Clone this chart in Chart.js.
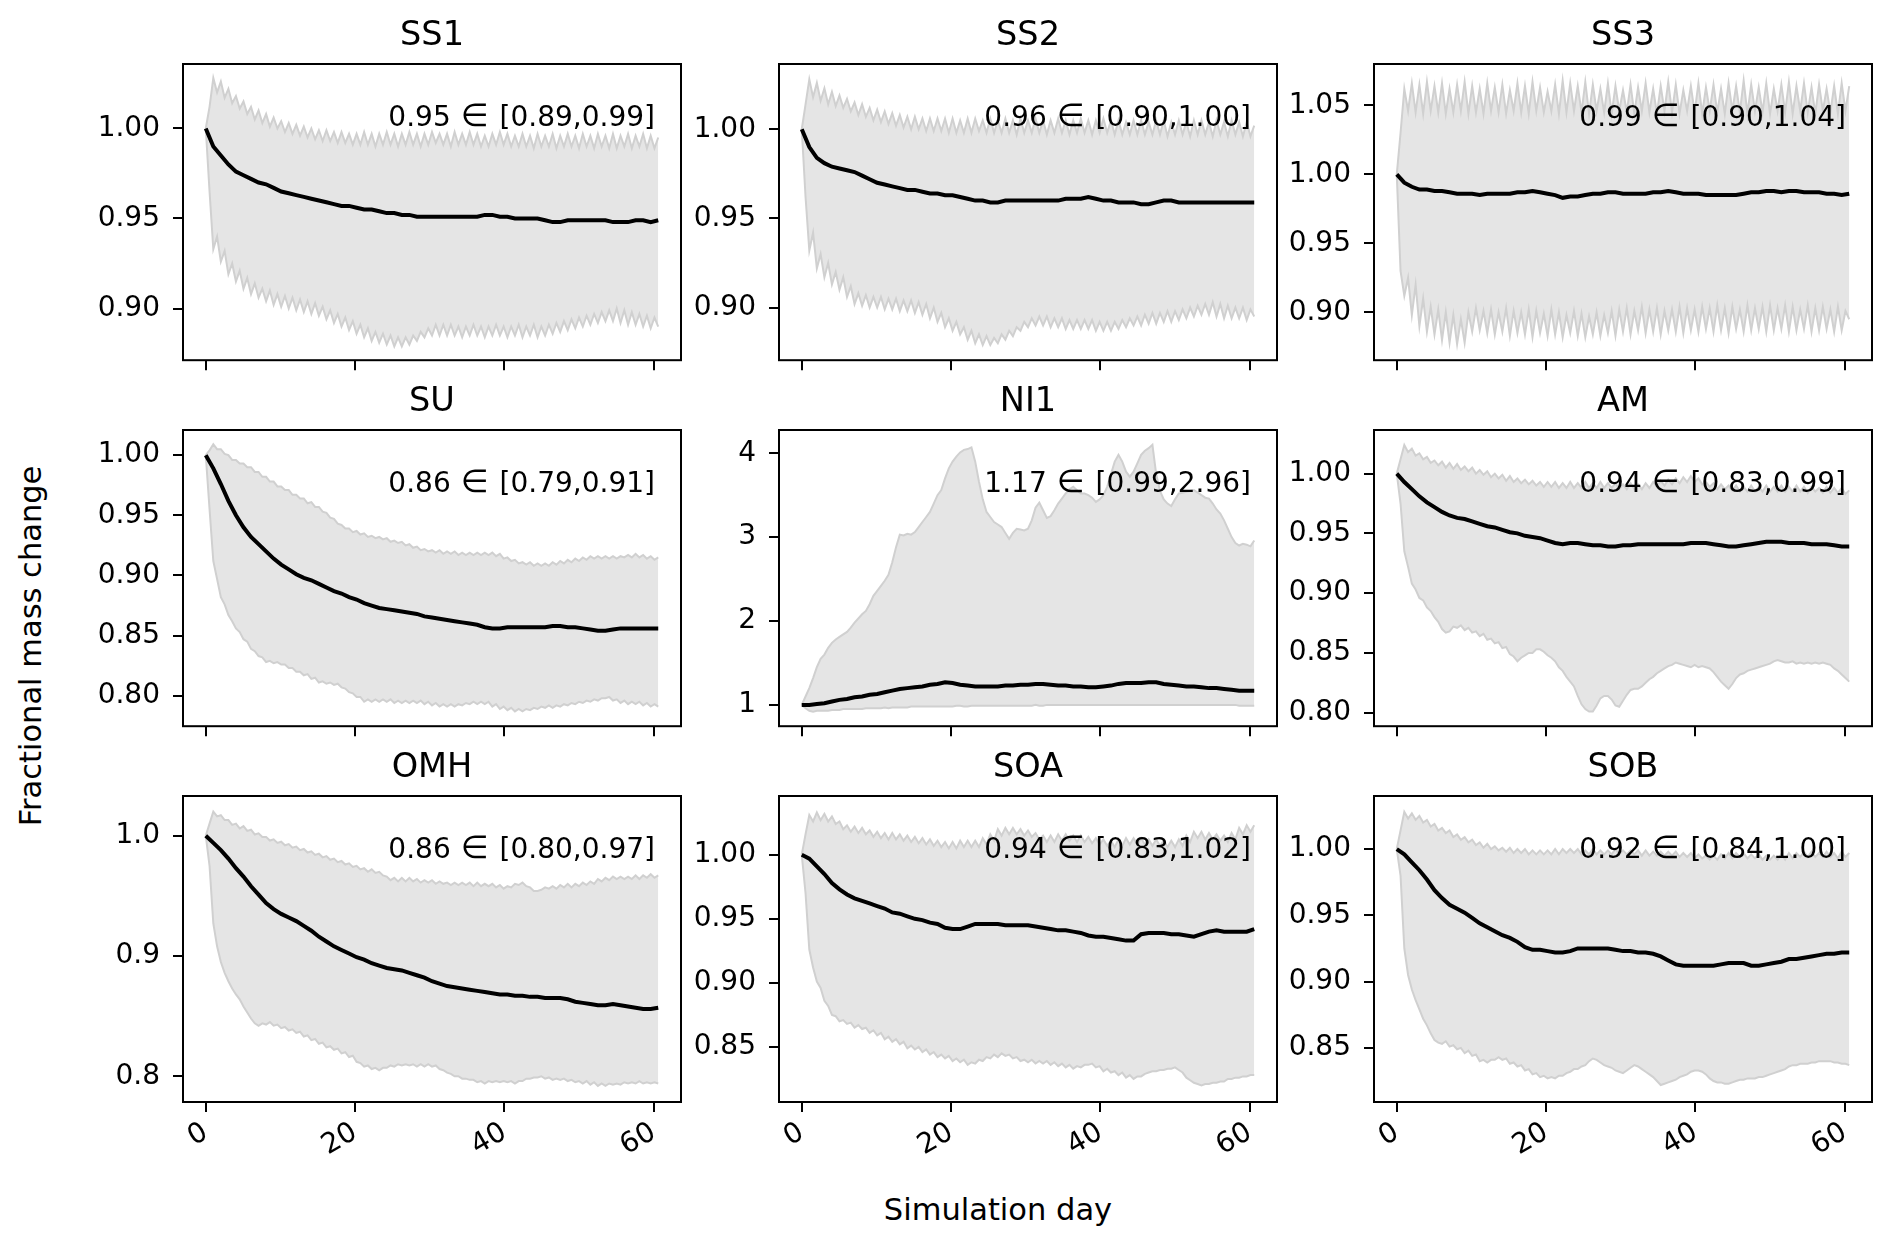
<!DOCTYPE html>
<html>
<head>
<meta charset="utf-8">
<title>Fractional mass change</title>
<script src="https://cdn.jsdelivr.net/npm/chart.js@4.4.1/dist/chart.umd.min.js"></script>
<style>
  html, body { margin: 0; padding: 0; background: #fff; }
  body { position: relative; width: 1892px; height: 1249px; overflow: hidden; font-family: "DejaVu Sans", sans-serif; }
  canvas { position: absolute; }
  .fig-label { position: absolute; font-size: 30.5px; line-height: 30.5px; color: #000; white-space: nowrap; }
  #xlabel { left: 998px; top: 1195px; transform: translateX(-50%); }
  #ylabel { left: 31px; top: 646px; transform: translate(-50%, -50%) rotate(-90deg); }
</style>
</head>
<body>
<div id="xlabel" class="fig-label">Simulation day</div>
<div id="ylabel" class="fig-label">Fractional mass change</div>
<script>
// sampling interval (days) of the ensemble mean and of the min/max band
const MEAN_STEP = 1.01;
const BAND_STEP = 0.505;

const xTickLabels = ['0', '20', '40', '60'];
const panelTitles = ['SS1', 'SS2', 'SS3', 'SU', 'NI1', 'AM', 'OMH', 'SOA', 'SOB'];
const panelNotes = [
  '0.95 ∈ [0.89,0.99]', '0.96 ∈ [0.90,1.00]', '0.99 ∈ [0.90,1.04]',
  '0.86 ∈ [0.79,0.91]', '1.17 ∈ [0.99,2.96]', '0.94 ∈ [0.83,0.99]',
  '0.86 ∈ [0.80,0.97]', '0.94 ∈ [0.83,1.02]', '0.92 ∈ [0.84,1.00]'
];

const ss1Ticks = ['0.90', '0.95', '1.00'];
const ss2Ticks = ['0.90', '0.95', '1.00'];
const ss3Ticks = ['0.90', '0.95', '1.00', '1.05'];
const suTicks = ['0.80', '0.85', '0.90', '0.95', '1.00'];
const ni1Ticks = ['1', '2', '3', '4'];
const amTicks = ['0.80', '0.85', '0.90', '0.95', '1.00'];
const omhTicks = ['0.8', '0.9', '1.0'];
const soaTicks = ['0.85', '0.90', '0.95', '1.00'];
const sobTicks = ['0.85', '0.90', '0.95', '1.00'];

// ---- SS1 ----
const ss1Mean = [
  1.000,0.990,0.985,0.980,0.976,0.974,0.972,0.970,0.969,0.967,
  0.965,0.964,0.963,0.962,0.961,0.960,0.959,0.958,0.957,0.957,
  0.956,0.955,0.955,0.954,0.953,0.953,0.952,0.952,0.951,0.951,
  0.951,0.951,0.951,0.951,0.951,0.951,0.951,0.952,0.952,0.951,
  0.951,0.950,0.950,0.950,0.950,0.949,0.948,0.948,0.949,0.949,
  0.949,0.949,0.949,0.949,0.948,0.948,0.948,0.949,0.949,0.948,
  0.949
];
const ss1Upper = [
  1.000,1.012,1.028,1.020,1.026,1.017,1.022,1.014,1.018,1.011,1.015,1.008,1.012,1.005,1.010,1.003,1.008,1.001,1.006,1.000,
  1.004,0.998,1.003,0.997,1.002,0.996,1.001,0.995,1.000,0.994,0.999,0.993,0.999,0.993,0.998,0.992,0.998,0.992,0.997,0.991,
  0.997,0.991,0.998,0.991,0.997,0.990,0.997,0.991,0.998,0.991,0.997,0.990,0.997,0.991,0.998,0.991,0.997,0.990,0.997,0.991,
  0.998,0.992,0.997,0.991,0.997,0.990,0.998,0.991,0.997,0.991,0.998,0.991,0.997,0.990,0.996,0.990,0.997,0.991,0.998,0.991,
  0.997,0.990,0.996,0.990,0.997,0.990,0.996,0.989,0.997,0.990,0.996,0.990,0.997,0.989,0.996,0.990,0.997,0.990,0.996,0.989,
  0.997,0.990,0.996,0.989,0.997,0.990,0.996,0.989,0.997,0.989,0.996,0.990,0.997,0.989,0.996,0.990,0.997,0.989,0.996,0.989,
  0.995
];
const ss1Lower = [
  1.000,0.965,0.933,0.940,0.926,0.932,0.919,0.925,0.915,0.921,0.911,0.917,0.908,0.914,0.906,0.911,0.904,0.910,0.902,0.908,
  0.901,0.907,0.900,0.906,0.899,0.905,0.898,0.904,0.897,0.903,0.896,0.901,0.894,0.899,0.892,0.897,0.890,0.895,0.888,0.893,
  0.886,0.891,0.884,0.889,0.882,0.887,0.881,0.886,0.880,0.885,0.879,0.884,0.879,0.884,0.880,0.885,0.882,0.887,0.884,0.889,
  0.885,0.891,0.885,0.891,0.885,0.891,0.885,0.890,0.884,0.890,0.885,0.891,0.885,0.890,0.884,0.890,0.885,0.891,0.885,0.890,
  0.884,0.890,0.885,0.891,0.884,0.890,0.885,0.891,0.884,0.890,0.885,0.891,0.886,0.892,0.887,0.893,0.888,0.894,0.889,0.895,
  0.890,0.896,0.891,0.897,0.892,0.898,0.893,0.899,0.893,0.900,0.892,0.899,0.891,0.898,0.891,0.897,0.890,0.896,0.889,0.895,
  0.890
];

// ---- SS2 ----
const ss2Mean = [
  1.000,0.990,0.984,0.981,0.979,0.978,0.977,0.976,0.974,0.972,
  0.970,0.969,0.968,0.967,0.966,0.966,0.965,0.964,0.964,0.963,
  0.963,0.962,0.961,0.960,0.960,0.959,0.959,0.960,0.960,0.960,
  0.960,0.960,0.960,0.960,0.960,0.961,0.961,0.961,0.962,0.961,
  0.960,0.960,0.959,0.959,0.959,0.958,0.958,0.959,0.960,0.960,
  0.959,0.959,0.959,0.959,0.959,0.959,0.959,0.959,0.959,0.959,
  0.959
];
const ss2Upper = [
  1.000,1.014,1.028,1.018,1.026,1.016,1.023,1.014,1.021,1.013,1.019,1.012,1.017,1.010,1.015,1.008,1.014,1.007,1.012,1.005,
  1.011,1.004,1.010,1.003,1.009,1.002,1.008,1.001,1.007,1.000,1.007,1.000,1.006,0.999,1.006,0.999,1.006,0.999,1.006,0.998,
  1.006,0.998,1.005,0.998,1.006,0.998,1.006,0.999,1.005,0.998,1.006,0.998,1.005,0.998,1.006,0.998,1.005,0.997,1.006,0.998,
  1.005,0.998,1.006,0.998,1.005,0.997,1.005,0.998,1.006,0.998,1.005,0.997,1.005,0.998,1.006,0.998,1.005,0.997,1.005,0.998,
  1.006,0.998,1.005,0.997,1.005,0.997,1.004,0.997,1.005,0.997,1.005,0.997,1.004,0.997,1.005,0.997,1.005,0.996,1.004,0.997,
  1.005,0.997,1.004,0.996,1.005,0.997,1.005,0.997,1.004,0.996,1.005,0.997,1.004,0.996,1.005,0.997,1.004,0.996,1.004,0.996,
  1.002
];
const ss2Lower = [
  1.000,0.962,0.932,0.942,0.922,0.930,0.917,0.925,0.913,0.920,0.910,0.917,0.906,0.912,0.902,0.908,0.901,0.907,0.900,0.906,
  0.900,0.906,0.899,0.905,0.899,0.905,0.898,0.904,0.898,0.904,0.897,0.903,0.896,0.902,0.894,0.900,0.892,0.897,0.889,0.894,
  0.887,0.892,0.885,0.889,0.882,0.887,0.880,0.885,0.879,0.884,0.879,0.883,0.880,0.885,0.882,0.887,0.884,0.889,0.887,0.892,
  0.889,0.894,0.890,0.895,0.890,0.895,0.889,0.894,0.889,0.894,0.888,0.893,0.888,0.893,0.888,0.893,0.888,0.893,0.887,0.892,
  0.887,0.892,0.887,0.892,0.888,0.893,0.889,0.894,0.890,0.895,0.890,0.896,0.891,0.897,0.891,0.897,0.892,0.898,0.892,0.898,
  0.893,0.899,0.894,0.900,0.895,0.901,0.896,0.902,0.896,0.903,0.895,0.902,0.894,0.901,0.894,0.900,0.894,0.900,0.893,0.899,
  0.895
];

// ---- SS3 ----
const ss3Mean = [
  1.000,0.994,0.991,0.989,0.989,0.988,0.988,0.987,0.986,0.986,
  0.986,0.985,0.986,0.986,0.986,0.986,0.987,0.987,0.988,0.987,
  0.986,0.985,0.983,0.984,0.984,0.985,0.986,0.986,0.987,0.987,
  0.986,0.986,0.986,0.986,0.987,0.987,0.988,0.987,0.986,0.986,
  0.986,0.985,0.985,0.985,0.985,0.985,0.986,0.987,0.987,0.988,
  0.988,0.987,0.988,0.988,0.987,0.987,0.987,0.986,0.986,0.985,
  0.986
];
const ss3Upper = [
  1.000,1.030,1.062,1.046,1.066,1.045,1.065,1.044,1.067,1.046,1.064,1.045,1.066,1.044,1.062,1.045,1.065,1.046,1.067,1.044,
  1.064,1.045,1.062,1.044,1.066,1.046,1.063,1.045,1.065,1.044,1.061,1.046,1.066,1.045,1.064,1.044,1.067,1.046,1.063,1.045,
  1.060,1.046,1.065,1.044,1.068,1.045,1.066,1.046,1.064,1.045,1.067,1.044,1.065,1.046,1.062,1.045,1.066,1.044,1.064,1.046,
  1.061,1.045,1.065,1.044,1.063,1.046,1.066,1.045,1.062,1.044,1.064,1.046,1.067,1.045,1.065,1.044,1.061,1.046,1.064,1.045,
  1.066,1.044,1.063,1.046,1.065,1.045,1.062,1.044,1.066,1.046,1.064,1.045,1.068,1.044,1.065,1.046,1.063,1.045,1.066,1.044,
  1.062,1.046,1.065,1.045,1.067,1.044,1.064,1.046,1.066,1.045,1.063,1.044,1.065,1.046,1.062,1.045,1.064,1.044,1.066,1.046,
  1.064
];
const ss3Lower = [
  1.000,0.930,0.912,0.925,0.898,0.920,0.890,0.910,0.886,0.904,0.884,0.902,0.880,0.900,0.878,0.898,0.877,0.895,0.878,0.900,
  0.886,0.903,0.887,0.901,0.885,0.902,0.884,0.900,0.886,0.903,0.883,0.901,0.885,0.900,0.884,0.902,0.882,0.901,0.885,0.899,
  0.883,0.902,0.884,0.900,0.882,0.898,0.885,0.901,0.883,0.899,0.882,0.897,0.884,0.900,0.883,0.898,0.885,0.901,0.883,0.902,
  0.886,0.903,0.884,0.901,0.887,0.904,0.885,0.902,0.886,0.903,0.884,0.901,0.887,0.902,0.886,0.904,0.885,0.903,0.887,0.902,
  0.886,0.904,0.888,0.903,0.886,0.905,0.887,0.903,0.885,0.904,0.888,0.902,0.886,0.905,0.887,0.903,0.888,0.904,0.886,0.905,
  0.887,0.903,0.888,0.905,0.886,0.904,0.887,0.902,0.888,0.905,0.886,0.903,0.887,0.904,0.888,0.902,0.886,0.904,0.887,0.901,
  0.895
];

// ---- SU ----
const suMean = [
  1.000,0.989,0.976,0.962,0.950,0.940,0.932,0.926,0.920,0.914,
  0.909,0.905,0.901,0.898,0.896,0.893,0.890,0.887,0.885,0.882,
  0.880,0.877,0.875,0.873,0.872,0.871,0.870,0.869,0.868,0.866,
  0.865,0.864,0.863,0.862,0.861,0.860,0.859,0.857,0.856,0.856,
  0.857,0.857,0.857,0.857,0.857,0.857,0.858,0.858,0.857,0.857,
  0.856,0.855,0.854,0.854,0.855,0.856,0.856,0.856,0.856,0.856,
  0.856
];
const suUpper = [
  1.000,1.004,1.009,1.005,1.005,1.001,1.000,0.996,0.996,0.993,0.993,0.990,0.990,0.986,0.986,0.982,0.982,0.978,0.978,0.974,
  0.974,0.971,0.971,0.967,0.967,0.964,0.964,0.960,0.961,0.957,0.957,0.953,0.952,0.948,0.947,0.943,0.942,0.939,0.939,0.936,
  0.937,0.934,0.935,0.932,0.933,0.931,0.932,0.930,0.931,0.928,0.929,0.927,0.928,0.925,0.926,0.923,0.924,0.921,0.922,0.920,
  0.921,0.919,0.921,0.918,0.920,0.918,0.920,0.917,0.919,0.917,0.919,0.917,0.919,0.917,0.919,0.917,0.919,0.916,0.918,0.914,
  0.915,0.912,0.913,0.910,0.911,0.909,0.911,0.908,0.910,0.908,0.910,0.908,0.911,0.909,0.912,0.910,0.913,0.911,0.914,0.912,
  0.915,0.913,0.916,0.914,0.916,0.914,0.916,0.914,0.916,0.914,0.916,0.915,0.917,0.915,0.918,0.915,0.917,0.914,0.916,0.913,
  0.915
];
const suLower = [
  1.000,0.955,0.912,0.897,0.882,0.876,0.867,0.862,0.856,0.853,0.847,0.845,0.839,0.837,0.833,0.832,0.828,0.829,0.827,0.828,
  0.826,0.826,0.823,0.823,0.820,0.820,0.817,0.818,0.814,0.815,0.811,0.812,0.810,0.811,0.809,0.810,0.807,0.806,0.803,0.802,
  0.799,0.799,0.795,0.797,0.795,0.797,0.795,0.797,0.795,0.797,0.794,0.796,0.794,0.796,0.794,0.796,0.794,0.796,0.793,0.795,
  0.792,0.794,0.791,0.793,0.791,0.793,0.791,0.793,0.792,0.794,0.793,0.795,0.793,0.795,0.793,0.795,0.791,0.793,0.789,0.791,
  0.788,0.790,0.787,0.789,0.787,0.789,0.788,0.790,0.789,0.791,0.790,0.792,0.790,0.792,0.791,0.793,0.792,0.794,0.793,0.795,
  0.794,0.796,0.795,0.797,0.796,0.798,0.798,0.799,0.796,0.797,0.794,0.796,0.793,0.795,0.793,0.795,0.792,0.794,0.791,0.793,
  0.791
];

// ---- NI1 ----
const ni1Mean = [
  1.00,1.00,1.01,1.02,1.04,1.06,1.07,1.09,1.10,1.12,
  1.13,1.15,1.17,1.19,1.20,1.21,1.22,1.24,1.25,1.27,
  1.26,1.24,1.23,1.22,1.22,1.22,1.22,1.23,1.23,1.24,
  1.24,1.25,1.25,1.24,1.23,1.23,1.22,1.22,1.21,1.21,
  1.22,1.23,1.25,1.26,1.26,1.26,1.27,1.27,1.25,1.24,
  1.23,1.22,1.22,1.21,1.20,1.20,1.19,1.18,1.17,1.17,
  1.17
];
const ni1Upper = [
  1.00,1.10,1.20,1.32,1.45,1.55,1.60,1.68,1.74,1.78,1.81,1.84,1.87,1.92,1.98,2.03,2.08,2.12,2.20,2.30,
  2.36,2.42,2.48,2.55,2.70,2.88,3.03,3.02,3.04,3.03,3.06,3.12,3.18,3.24,3.30,3.40,3.50,3.56,3.70,3.82,
  3.90,3.96,4.01,4.04,4.05,4.07,3.90,3.66,3.45,3.30,3.24,3.18,3.15,3.12,3.05,2.98,3.05,3.10,3.09,3.08,
  3.10,3.20,3.35,3.41,3.32,3.23,3.25,3.32,3.40,3.46,3.52,3.57,3.60,3.56,3.52,3.52,3.50,3.47,3.42,3.45,
  3.50,3.60,3.75,3.90,3.98,3.90,3.78,3.72,3.78,3.88,3.98,4.03,4.06,4.10,3.75,3.55,3.45,3.40,3.37,3.45,
  3.52,3.53,3.54,3.55,3.56,3.53,3.50,3.47,3.46,3.40,3.33,3.28,3.20,3.10,3.00,2.93,2.90,2.92,2.91,2.89,
  2.96
];
const ni1Lower = [
  1.00,0.96,0.93,0.92,0.93,0.93,0.93,0.93,0.94,0.94,0.94,0.95,0.95,0.95,0.95,0.95,0.95,0.96,0.96,0.96,
  0.96,0.96,0.97,0.96,0.97,0.97,0.97,0.97,0.97,0.98,0.98,0.98,0.98,0.98,0.98,0.98,0.98,0.98,0.98,0.98,
  0.98,0.99,0.99,0.98,0.98,0.99,0.99,0.99,0.99,0.99,0.99,0.99,0.99,0.99,0.99,0.99,0.99,0.99,0.99,0.99,
  0.99,0.99,1.00,0.99,0.99,1.00,1.00,1.00,1.00,1.00,1.00,1.00,1.00,1.00,1.00,1.00,1.00,1.00,1.00,1.00,
  1.00,1.00,1.00,1.00,1.00,1.00,1.00,1.00,1.00,1.00,1.00,1.00,1.00,1.00,1.00,1.00,1.00,1.00,1.00,1.00,
  1.00,1.00,1.00,1.00,1.00,1.00,1.00,1.00,1.00,1.00,1.00,1.00,1.00,1.00,1.00,1.00,0.99,0.99,0.99,0.99,
  0.99
];

// ---- AM ----
const amMean = [
  1.000,0.993,0.987,0.981,0.976,0.972,0.968,0.965,0.963,0.962,
  0.960,0.958,0.956,0.955,0.953,0.951,0.950,0.948,0.947,0.946,
  0.944,0.942,0.941,0.942,0.942,0.941,0.940,0.940,0.939,0.939,
  0.940,0.940,0.941,0.941,0.941,0.941,0.941,0.941,0.941,0.942,
  0.942,0.942,0.941,0.940,0.939,0.939,0.940,0.941,0.942,0.943,
  0.943,0.943,0.942,0.942,0.942,0.941,0.941,0.941,0.940,0.939,
  0.939
];
const amUpper = [
  1.000,1.012,1.024,1.018,1.021,1.015,1.017,1.012,1.014,1.009,1.011,1.007,1.010,1.005,1.009,1.004,1.008,1.003,1.006,1.002,
  1.005,1.000,1.003,0.999,1.002,0.997,1.000,0.996,0.999,0.994,0.998,0.993,0.996,0.992,0.995,0.991,0.994,0.990,0.993,0.989,
  0.993,0.989,0.993,0.988,0.992,0.988,0.993,0.988,0.992,0.988,0.993,0.988,0.992,0.988,0.993,0.988,0.992,0.988,0.992,0.987,
  0.991,0.987,0.992,0.987,0.991,0.987,0.992,0.988,0.993,0.989,0.994,0.990,0.995,0.991,0.996,0.992,0.997,0.993,0.998,0.993,
  0.996,0.991,0.993,0.989,0.992,0.987,0.991,0.987,0.990,0.986,0.990,0.985,0.989,0.985,0.990,0.985,0.989,0.985,0.990,0.985,
  0.989,0.985,0.990,0.985,0.989,0.985,0.990,0.985,0.989,0.984,0.989,0.985,0.988,0.984,0.989,0.984,0.988,0.984,0.988,0.983,
  0.986
];
const amLower = [
  1.000,0.975,0.935,0.922,0.908,0.903,0.896,0.894,0.888,0.885,0.880,0.876,0.870,0.867,0.868,0.872,0.871,0.873,0.869,0.871,
  0.867,0.868,0.864,0.866,0.861,0.862,0.858,0.859,0.854,0.855,0.849,0.847,0.843,0.846,0.848,0.850,0.850,0.853,0.853,0.851,
  0.848,0.846,0.843,0.838,0.835,0.830,0.826,0.822,0.814,0.807,0.803,0.801,0.801,0.806,0.812,0.814,0.814,0.811,0.806,0.805,
  0.810,0.815,0.819,0.820,0.820,0.822,0.825,0.828,0.830,0.833,0.835,0.837,0.839,0.840,0.842,0.841,0.840,0.839,0.838,0.840,
  0.838,0.839,0.838,0.837,0.834,0.830,0.826,0.823,0.820,0.824,0.829,0.832,0.833,0.835,0.836,0.837,0.838,0.839,0.840,0.841,
  0.843,0.844,0.843,0.842,0.842,0.843,0.841,0.842,0.841,0.842,0.841,0.842,0.841,0.842,0.841,0.840,0.837,0.835,0.832,0.829,
  0.826
];

// ---- OMH ----
const omhMean = [
  1.000,0.994,0.988,0.981,0.973,0.966,0.958,0.951,0.944,0.939,
  0.935,0.932,0.929,0.925,0.921,0.916,0.912,0.908,0.905,0.902,
  0.899,0.897,0.894,0.892,0.890,0.889,0.888,0.886,0.884,0.882,
  0.879,0.877,0.875,0.874,0.873,0.872,0.871,0.870,0.869,0.868,
  0.868,0.867,0.867,0.866,0.866,0.865,0.865,0.865,0.864,0.862,
  0.861,0.860,0.859,0.859,0.860,0.859,0.858,0.857,0.856,0.856,
  0.857
];
const omhUpper = [
  1.000,1.010,1.020,1.016,1.017,1.013,1.013,1.009,1.010,1.006,1.008,1.004,1.005,1.001,1.002,0.999,0.999,0.996,0.997,0.994,
  0.995,0.992,0.993,0.990,0.991,0.988,0.989,0.986,0.987,0.984,0.985,0.982,0.983,0.980,0.981,0.978,0.979,0.976,0.977,0.974,
  0.975,0.972,0.973,0.970,0.972,0.969,0.970,0.967,0.966,0.963,0.965,0.962,0.965,0.962,0.965,0.962,0.964,0.961,0.963,0.961,
  0.963,0.960,0.962,0.960,0.961,0.959,0.961,0.959,0.961,0.959,0.961,0.958,0.961,0.958,0.960,0.958,0.960,0.957,0.959,0.956,
  0.958,0.957,0.960,0.959,0.961,0.958,0.957,0.954,0.954,0.955,0.957,0.956,0.958,0.956,0.959,0.957,0.960,0.957,0.960,0.958,
  0.961,0.959,0.962,0.960,0.964,0.962,0.965,0.963,0.966,0.964,0.966,0.964,0.966,0.964,0.967,0.964,0.967,0.965,0.968,0.965,
  0.967
];
const omhLower = [
  1.000,0.975,0.927,0.908,0.895,0.886,0.879,0.873,0.868,0.864,0.858,0.853,0.848,0.844,0.842,0.844,0.843,0.845,0.842,0.843,
  0.840,0.841,0.838,0.839,0.836,0.837,0.833,0.834,0.830,0.831,0.827,0.828,0.824,0.825,0.822,0.823,0.819,0.820,0.816,0.817,
  0.812,0.811,0.808,0.809,0.806,0.807,0.805,0.807,0.807,0.809,0.808,0.810,0.809,0.810,0.809,0.810,0.808,0.810,0.808,0.810,
  0.808,0.809,0.806,0.805,0.803,0.802,0.800,0.800,0.798,0.798,0.797,0.797,0.795,0.796,0.794,0.796,0.795,0.796,0.795,0.796,
  0.795,0.796,0.794,0.796,0.796,0.798,0.798,0.799,0.799,0.800,0.798,0.799,0.797,0.798,0.797,0.798,0.796,0.797,0.795,0.796,
  0.794,0.796,0.793,0.795,0.792,0.794,0.792,0.794,0.793,0.794,0.793,0.795,0.794,0.795,0.794,0.796,0.794,0.795,0.794,0.795,
  0.794
];

// ---- SOA ----
const soaMean = [
  1.000,0.997,0.991,0.985,0.978,0.973,0.969,0.966,0.964,0.962,
  0.960,0.958,0.955,0.954,0.952,0.950,0.949,0.947,0.946,0.943,
  0.942,0.942,0.944,0.946,0.946,0.946,0.946,0.945,0.945,0.945,
  0.945,0.944,0.943,0.942,0.941,0.941,0.940,0.939,0.937,0.936,
  0.936,0.935,0.934,0.933,0.933,0.938,0.939,0.939,0.939,0.938,
  0.938,0.937,0.936,0.938,0.940,0.941,0.940,0.940,0.940,0.940,
  0.942
];
const soaUpper = [
  1.000,1.016,1.031,1.026,1.033,1.027,1.032,1.026,1.030,1.024,1.026,1.020,1.023,1.018,1.022,1.017,1.021,1.016,1.019,1.014,
  1.018,1.013,1.017,1.012,1.017,1.012,1.016,1.011,1.015,1.010,1.014,1.009,1.013,1.008,1.012,1.007,1.011,1.006,1.010,1.005,
  1.010,1.005,1.011,1.006,1.011,1.006,1.011,1.006,1.013,1.008,1.016,1.011,1.020,1.015,1.021,1.016,1.021,1.016,1.020,1.015,
  1.019,1.014,1.017,1.012,1.015,1.010,1.015,1.010,1.016,1.011,1.016,1.011,1.015,1.010,1.015,1.010,1.014,1.009,1.013,1.008,
  1.012,1.007,1.011,1.006,1.012,1.007,1.013,1.008,1.013,1.008,1.013,1.008,1.012,1.007,1.012,1.007,1.011,1.006,1.011,1.006,
  1.012,1.007,1.015,1.010,1.018,1.013,1.018,1.012,1.017,1.012,1.016,1.011,1.015,1.010,1.017,1.012,1.021,1.016,1.023,1.018,
  1.023
];
const soaLower = [
  1.000,0.970,0.926,0.912,0.901,0.896,0.886,0.882,0.875,0.874,0.870,0.871,0.868,0.869,0.865,0.867,0.864,0.865,0.861,0.863,
  0.859,0.861,0.856,0.858,0.854,0.856,0.852,0.854,0.849,0.851,0.848,0.850,0.846,0.848,0.844,0.846,0.842,0.844,0.841,0.843,
  0.839,0.841,0.838,0.840,0.836,0.838,0.837,0.840,0.839,0.842,0.841,0.844,0.842,0.845,0.843,0.844,0.841,0.842,0.839,0.840,
  0.838,0.840,0.837,0.839,0.837,0.839,0.836,0.838,0.835,0.837,0.834,0.836,0.833,0.835,0.834,0.836,0.836,0.837,0.834,0.835,
  0.831,0.833,0.830,0.831,0.828,0.830,0.826,0.828,0.825,0.827,0.827,0.829,0.830,0.831,0.831,0.832,0.832,0.833,0.833,0.834,
  0.832,0.830,0.826,0.824,0.822,0.821,0.820,0.821,0.821,0.822,0.822,0.823,0.823,0.825,0.825,0.826,0.826,0.827,0.827,0.828,
  0.828
];

// ---- SOB ----
const sobMean = [
  1.000,0.996,0.990,0.984,0.977,0.969,0.963,0.958,0.955,0.952,
  0.948,0.944,0.941,0.938,0.935,0.933,0.930,0.926,0.924,0.924,
  0.923,0.922,0.922,0.923,0.925,0.925,0.925,0.925,0.925,0.924,
  0.923,0.923,0.922,0.922,0.921,0.919,0.916,0.913,0.912,0.912,
  0.912,0.912,0.912,0.913,0.914,0.914,0.914,0.912,0.912,0.913,
  0.914,0.915,0.917,0.917,0.918,0.919,0.920,0.921,0.921,0.922,
  0.922
];
const sobUpper = [
  1.000,1.014,1.028,1.023,1.027,1.022,1.025,1.020,1.022,1.017,1.019,1.014,1.016,1.012,1.014,1.009,1.011,1.007,1.009,1.005,
  1.007,1.003,1.005,1.001,1.004,1.000,1.002,0.999,1.001,0.998,1.001,0.997,1.000,0.997,1.000,0.996,0.999,0.996,0.999,0.996,
  0.999,0.996,1.000,0.996,1.000,0.997,1.000,0.997,1.000,0.996,0.999,0.996,1.000,0.996,0.999,0.996,0.999,0.996,1.000,0.996,
  0.999,0.996,0.999,0.996,0.999,0.995,0.999,0.995,0.998,0.995,0.998,0.995,0.998,0.995,0.998,0.994,0.997,0.994,0.997,0.993,
  0.996,0.993,0.995,0.992,0.995,0.992,0.996,0.993,0.997,0.993,0.997,0.994,0.997,0.993,0.996,0.993,0.996,0.992,0.995,0.992,
  0.995,0.992,0.996,0.992,0.997,0.993,0.997,0.994,0.998,0.994,0.998,0.994,0.997,0.994,0.998,0.994,0.997,0.993,0.998,0.994,
  0.997
];
const sobLower = [
  1.000,0.980,0.925,0.905,0.894,0.886,0.879,0.872,0.867,0.861,0.856,0.854,0.853,0.855,0.851,0.852,0.849,0.850,0.846,0.848,
  0.844,0.845,0.840,0.841,0.839,0.841,0.841,0.843,0.841,0.842,0.838,0.839,0.836,0.837,0.833,0.834,0.830,0.831,0.828,0.829,
  0.827,0.828,0.827,0.829,0.829,0.831,0.832,0.834,0.834,0.836,0.837,0.840,0.842,0.841,0.839,0.837,0.836,0.835,0.833,0.832,
  0.831,0.833,0.835,0.837,0.836,0.834,0.832,0.830,0.828,0.825,0.822,0.823,0.824,0.825,0.826,0.828,0.829,0.830,0.832,0.833,
  0.833,0.832,0.830,0.827,0.825,0.824,0.824,0.823,0.823,0.824,0.825,0.826,0.826,0.827,0.827,0.827,0.828,0.828,0.829,0.830,
  0.831,0.832,0.833,0.834,0.836,0.837,0.837,0.838,0.838,0.838,0.839,0.839,0.840,0.840,0.840,0.840,0.839,0.839,0.838,0.838,
  0.837
];

const meanSeries = [ss1Mean, ss2Mean, ss3Mean, suMean, ni1Mean, amMean, omhMean, soaMean, sobMean];
const upperSeries = [ss1Upper, ss2Upper, ss3Upper, suUpper, ni1Upper, amUpper, omhUpper, soaUpper, sobUpper];
const lowerSeries = [ss1Lower, ss2Lower, ss3Lower, suLower, ni1Lower, amLower, omhLower, soaLower, sobLower];
const yTickSets = [ss1Ticks, ss2Ticks, ss3Ticks, suTicks, ni1Ticks, amTicks, omhTicks, soaTicks, sobTicks];
const yLimits = [
  [0.8713, 1.0358], [0.8705, 1.0366], [0.8653, 1.0800],
  [0.7747, 1.0209], [0.746, 4.277], [0.7887, 1.0365],
  [0.7786, 1.0330], [0.8070, 1.0459], [0.8092, 1.0400]
];
const X_MIN = -3.05;
const X_MAX = 63.65;

// page layout (px): plot boxes of the 3x3 grid
const COL_LEFT = [183, 779, 1374];
const ROW_TOP = [64, 430, 796];
const PLOT_W = 498;
const PLOT_H = 306;
const AXIS_W = 140;
const TOP_SPACE = 60;
const RIGHT_SPACE = 12;
const FONT = '"DejaVu Sans", sans-serif';

// draws the "mean ∈ [min,max]" note right-aligned, with a wider ∈ like mathtext
function drawNote(ctx, note, right, baseline) {
  const [left, rest] = note.split(' ∈ ');
  ctx.textAlign = 'right';
  ctx.font = `28px ${FONT}`;
  ctx.fillText(rest, right, baseline);
  let x = right - ctx.measureText(rest).width - 11;
  ctx.font = `32px ${FONT}`;
  ctx.fillText('∈', x, baseline);
  x -= ctx.measureText('∈').width + 10;
  ctx.font = `28px ${FONT}`;
  ctx.fillText(left, x, baseline);
}

const panelText = {
  id: 'panelText',
  afterDraw(chart, args, opts) {
    const { ctx, chartArea: a } = chart;
    ctx.save();
    ctx.strokeStyle = '#000';
    ctx.lineWidth = 2;
    ctx.strokeRect(a.left, a.top, a.right - a.left, a.bottom - a.top);
    ctx.fillStyle = '#000';
    ctx.textBaseline = 'alphabetic';
    ctx.font = `33.6px ${FONT}`;
    ctx.textAlign = 'center';
    ctx.fillText(opts.title, (a.left + a.right) / 2, a.top - 19);
    drawNote(ctx, opts.note, a.right - 26, a.top + 62);
    ctx.restore();
  }
};

function toPoints(values, step) {
  return values.map((y, i) => ({ x: i * step, y }));
}

function makePanel(i) {
  const row = Math.floor(i / 3);
  const col = i % 3;
  const showLabels = row === 2;
  const bottomSpace = showLabels ? 90 : 20;
  const width = AXIS_W + PLOT_W + RIGHT_SPACE;
  const height = TOP_SPACE + PLOT_H + bottomSpace;

  const canvas = document.createElement('canvas');
  canvas.width = width;
  canvas.height = height;
  canvas.style.left = (COL_LEFT[col] - AXIS_W) + 'px';
  canvas.style.top = (ROW_TOP[row] - TOP_SPACE) + 'px';
  canvas.style.width = width + 'px';
  canvas.style.height = height + 'px';
  document.body.appendChild(canvas);

  const yLabels = yTickSets[i];
  const tickGrid = {
    drawOnChartArea: false,
    drawTicks: true,
    tickLength: 10,
    color: '#000',
    lineWidth: 2
  };

  return new Chart(canvas, {
    type: 'line',
    data: {
      datasets: [
        {
          data: toPoints(meanSeries[i], MEAN_STEP),
          borderColor: '#000',
          borderWidth: 4,
          pointRadius: 0,
          fill: false
        },
        {
          data: toPoints(upperSeries[i], BAND_STEP),
          borderColor: '#d0d0d0',
          borderWidth: 2,
          pointRadius: 0,
          backgroundColor: '#e5e5e5',
          fill: '+1'
        },
        {
          data: toPoints(lowerSeries[i], BAND_STEP),
          borderColor: '#d0d0d0',
          borderWidth: 2,
          pointRadius: 0,
          fill: false
        }
      ]
    },
    options: {
      responsive: false,
      animation: false,
      events: [],
      layout: { padding: { left: 0, top: TOP_SPACE, right: RIGHT_SPACE, bottom: 0 } },
      plugins: {
        legend: { display: false },
        tooltip: { enabled: false },
        filler: { drawTime: 'beforeDatasetsDraw' },
        panelText: { title: panelTitles[i], note: panelNotes[i] }
      },
      scales: {
        x: {
          type: 'linear',
          min: X_MIN,
          max: X_MAX,
          afterFit: (scale) => { scale.height = bottomSpace; },
          afterBuildTicks: (scale) => {
            scale.ticks = xTickLabels.map((label) => ({ value: parseFloat(label) }));
          },
          ticks: {
            display: showLabels,
            autoSkip: false,
            minRotation: 30,
            maxRotation: 30,
            padding: 4,
            color: '#000',
            font: { family: FONT, size: 28 },
            callback: (value, index) => xTickLabels[index]
          },
          grid: tickGrid,
          border: { display: false }
        },
        y: {
          min: yLimits[i][0],
          max: yLimits[i][1],
          afterFit: (scale) => { scale.width = AXIS_W; },
          afterBuildTicks: (scale) => {
            scale.ticks = yLabels.map((label) => ({ value: parseFloat(label) }));
          },
          ticks: {
            autoSkip: false,
            padding: 13,
            color: '#000',
            font: { family: FONT, size: 28 },
            callback: (value, index) => yLabels[index]
          },
          grid: tickGrid,
          border: { display: false }
        }
      }
    },
    plugins: [panelText]
  });
}

panelTitles.forEach((title, i) => makePanel(i));
</script>
</body>
</html>
